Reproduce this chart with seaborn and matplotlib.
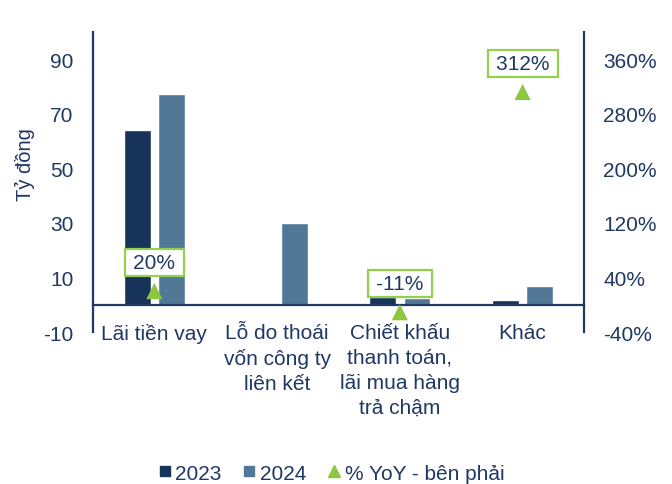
import numpy as np
import pandas as pd
import matplotlib
matplotlib.use("Agg")
import matplotlib.pyplot as plt
from matplotlib.lines import Line2D
import seaborn as sns

categories = ["Lãi tiền vay", "Lỗ do thoái\nvốn công ty\nliên kết",
              "Chiết khấu\nthanh toán,\nlãi mua hàng\ntrả chậm", "Khác"]
values_2023 = [64.1, 0.0, 2.8, 1.65]
values_2024 = [77.1, 30.0, 2.5, 6.8]
yoy_pct = [20, np.nan, -11, 312]
left_ticks = [-10, 10, 30, 50, 70, 90]
right_ticks = [-40, 40, 120, 200, 280, 360]

NAVY = "#17335A"
STEEL = "#527898"
GREEN = "#8DC63F"
BOX_EDGE = "#92D050"
TEXT = "#1F3864"

sns.set_style("white")
plt.rcParams["font.family"] = ["Liberation Sans", "DejaVu Sans"]
plt.rcParams["font.size"] = 15
plt.rcParams["axes.unicode_minus"] = False

df = pd.DataFrame({
    "cat": categories * 2,
    "year": ["2023"] * 4 + ["2024"] * 4,
    "value": values_2023 + values_2024,
})

fig = plt.figure(figsize=(6.72, 4.85), dpi=100)
ax = fig.add_axes([0.1384, 0.3134, 0.7306, 0.6186])

sns.barplot(data=df, x="cat", y="value", hue="year", order=categories,
            palette={"2023": NAVY, "2024": STEEL}, width=0.56, gap=0.22,
            saturation=1, legend=False, ax=ax)

xpos = np.arange(len(categories))
ax.set_xlim(-0.5, len(categories) - 0.5)
ax.set_ylim(-10, 100)
ax.set_yticks(left_ticks)
ax.set_xticks(xpos, labels=categories, linespacing=1.4)
ax.set_xlabel("")
ax.set_ylabel("Tỷ đồng", color=TEXT, fontsize=14.5)
ax.yaxis.set_label_coords(-0.118, 0.56)
ax.tick_params(axis="y", length=0, pad=14, colors=TEXT, labelsize=15)
ax.tick_params(axis="x", length=0, pad=13, colors=TEXT, labelsize=15)

for side in ["top", "right"]:
    ax.spines[side].set_visible(False)
ax.spines["left"].set_color(TEXT)
ax.spines["left"].set_linewidth(1.6)
ax.spines["bottom"].set_position(("data", 0))
ax.spines["bottom"].set_color(TEXT)
ax.spines["bottom"].set_linewidth(1.6)

ax2 = ax.twinx()
ax2.set_ylim(-40, 400)
ax2.set_yticks(right_ticks)
ax2.set_yticklabels([f"{t}%" for t in right_ticks])
ax2.tick_params(axis="y", length=0, pad=14, colors=TEXT, labelsize=15)
for side in ["top", "left", "bottom"]:
    ax2.spines[side].set_visible(False)
ax2.spines["right"].set_color(TEXT)
ax2.spines["right"].set_linewidth(1.6)

sns.scatterplot(x=xpos, y=yoy_pct, marker="^", s=135, color=GREEN,
                edgecolor="none", ax=ax2, zorder=5)

for x, v in zip(xpos, yoy_pct):
    if np.isnan(v):
        continue
    ax2.annotate(f"\u2009{v:.0f}%\u2009", (x, v), xytext=(0, 20.5),
                 textcoords="offset points", ha="center", va="center",
                 color=TEXT, fontsize=15, zorder=6,
                 bbox=dict(boxstyle="square,pad=0.2", fc="white",
                           ec=BOX_EDGE, lw=1.6))

# make sure the category labels keep the wider line spacing
for lbl in ax.get_xticklabels():
    lbl.set_linespacing(1.4)

handles = [
    Line2D([], [], marker="s", ls="none", color=NAVY, markersize=7.5),
    Line2D([], [], marker="s", ls="none", color=STEEL, markersize=7.5),
    Line2D([], [], marker="^", ls="none", color=GREEN, markersize=9),
]
fig.legend(handles, ["2023", "2024", "% YoY - bên phải"], loc="lower center",
           bbox_to_anchor=(0.49, -0.036), ncol=3, frameon=False, fontsize=15,
           handletextpad=0.0, columnspacing=0.85, handlelength=1.0,
           labelcolor=TEXT)

fig.savefig("out.png", dpi=100, facecolor="white")
